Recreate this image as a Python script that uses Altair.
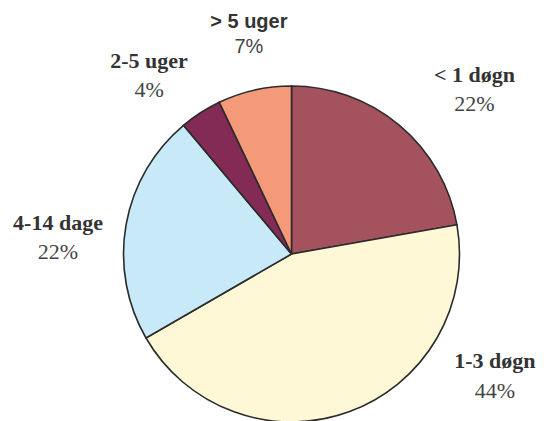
import math
import altair as alt
import pandas as pd

# ---- data ----
categories = ["< 1 døgn", "1-3 døgn", "4-14 dage", "2-5 uger", "> 5 uger"]
shares = [22, 44, 22, 4, 7]
pct_labels = ["22%", "44%", "22%", "4%", "7%"]
colors = ["#A5525F", "#FFF8D6", "#C7E9F8", "#832B55", "#F59A78"]

df = pd.DataFrame({"kategori": categories, "andel": shares,
                   "pct": pct_labels, "orden": list(range(len(categories)))})

# ---- layout (pixels, chart coordinates) ----
W, H = 528, 414
CX, CY = 283.5, 246
R = 168
# label block anchor around the pie: (angle deg clockwise from north, distance, half line gap)
label_layout = {
    "< 1 døgn": (49.3, 241.4, 14.5),
    "1-3 døgn": (122.4, 240.9, 15.0),
    "4-14 dage": (272.3, 233.7, 14.5),
    "2-5 uger": (320.3, 223.0, 14.5),
    "> 5 uger": (348.7, 217.7, 12.5),
}
sans_labels = {"> 5 uger"}
SERIF = "Liberation Serif"
SANS = "Liberation Sans"

base = alt.Chart(df)

pie = base.mark_arc(radius=R, stroke="#2b2b2b", strokeWidth=1.6).encode(
    theta=alt.Theta("andel:Q", stack=True),
    order=alt.Order("orden:Q"),
    color=alt.Color("kategori:N", scale=alt.Scale(domain=categories, range=colors), legend=None),
    x=alt.value(CX),
    y=alt.value(CY),
)

layers = [pie]
for cat in categories:
    ang, dist, gap = label_layout[cat]
    th = math.radians(ang)
    sans = cat in sans_labels
    sub = base.transform_filter(alt.datum.kategori == cat)
    name = sub.mark_text(
        theta=th, radius=dist, dy=-gap,
        font=SANS if sans else SERIF,
        fontWeight="bold", fontSize=20 if sans else 22,
        color="#333333", baseline="alphabetic", align="center",
    ).encode(text="kategori:N", x=alt.value(CX), y=alt.value(CY))
    pct = sub.mark_text(
        theta=th, radius=dist, dy=gap,
        font=SANS if sans else SERIF,
        fontSize=20 if sans else 22,
        color="#444444", baseline="alphabetic", align="center",
    ).encode(text="pct:N", x=alt.value(CX), y=alt.value(CY))
    layers += [name, pct]

chart = alt.layer(*layers).properties(
    width=W, height=H,
    autosize=alt.AutoSizeParams(type="none"),
    padding=0,
).configure_view(stroke=None)

chart.save("out.html", embed_options={"renderer": "svg", "actions": False})
